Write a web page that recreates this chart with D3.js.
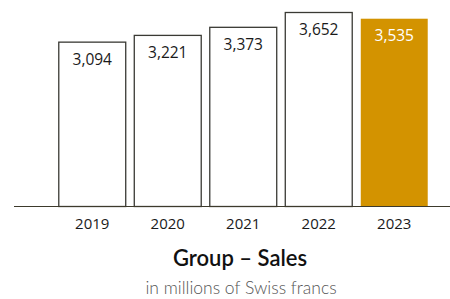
<!DOCTYPE html>
<html lang="en">
<head>
    <script src="https://d3js.org/d3.v7.min.js"></script>
    <style>
        body { margin: 0; background: #fff; }
        * { font-family: "Open Sans", sans-serif; }
        .value { font-size: 15.5px; text-anchor: middle; fill: #1a1a1a; }
        .year { font-size: 15px; text-anchor: middle; fill: #1a1a1a; }
        .title { font-family: Lato, sans-serif; font-size: 22px; font-weight: 600; text-anchor: middle; fill: #111; }
        .subtitle { font-family: Lato, sans-serif; font-size: 17.5px; font-weight: 300; text-anchor: middle; fill: #555; }
    </style>
</head>
<body>
<svg class="bar-chart"></svg>
<script>
    // chart data
    const years = ["2019", "2020", "2021", "2022", "2023"];
    const sales = [3094, 3221, 3373, 3652, 3535];
    const highlight = "2023";

    const width = 450, height = 299;
    const baseline = 206;

    const svg = d3.select("svg.bar-chart")
        .attr("width", width)
        .attr("height", height);

    const x = d3.scaleBand()
        .domain(years)
        .range([54.5, 432])
        .paddingInner(0.1)
        .paddingOuter(0.05);

    const y = d3.scaleLinear()
        .domain([0, 3652])
        .range([baseline, 12]);

    const format = d3.format(",");

    const data = years.map((yr, i) => ({year: yr, value: sales[i]}));

    const bars = svg.selectAll("g.entry")
        .data(data)
        .enter().append("g").attr("class", "entry");

    bars.append("rect")
        .attr("x", d => x(d.year) + 0.5)
        .attr("y", d => y(d.value) + 0.5)
        .attr("width", x.bandwidth() - 1)
        .attr("height", d => baseline - y(d.value))
        .style("fill", d => d.year == highlight ? "#d39300" : "#fff")
        .style("stroke", d => d.year == highlight ? "none" : "#3a3a34")
        .style("stroke-width", 1.3);

    bars.append("text").attr("class", "value")
        .attr("x", d => x(d.year) + x.bandwidth() / 2)
        .attr("y", d => y(d.value) + 23)
        .style("fill", d => d.year == highlight ? "#fff" : "#1a1a1a")
        .text(d => format(d.value));

    // baseline axis
    svg.append("line")
        .attr("x1", 14).attr("x2", width)
        .attr("y1", baseline + 0.5).attr("y2", baseline + 0.5)
        .style("stroke", "#3d3a2c")
        .style("stroke-width", 1.2);

    bars.append("text").attr("class", "year")
        .attr("x", d => x(d.year) + x.bandwidth() / 2)
        .attr("y", 229)
        .text(d => d.year);

    svg.append("text").attr("class", "title")
        .attr("x", 240).attr("y", 266)
        .text("Group – Sales");

    svg.append("text").attr("class", "subtitle")
        .attr("x", 241).attr("y", 294)
        .text("in millions of Swiss francs");
</script>
</body>
</html>
